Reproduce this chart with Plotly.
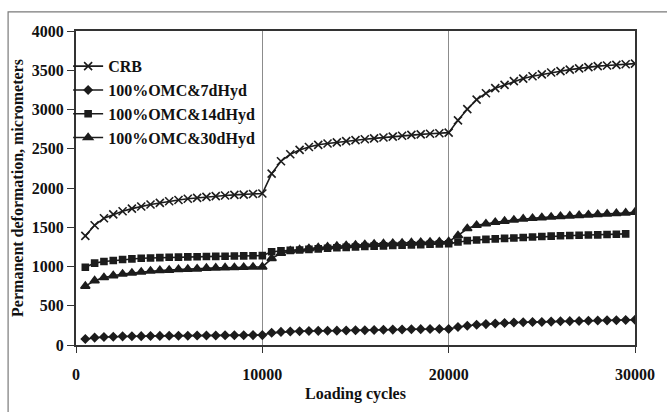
import plotly.graph_objects as go

# Loading cycles at which deformation was recorded (every 500 cycles)
cycles = list(range(500, 30001, 500))

crb = [1390, 1525, 1615, 1664, 1704, 1737, 1765, 1790, 1810, 1831,
       1847, 1863, 1875, 1887, 1896, 1904, 1912, 1916, 1924, 1930,
       2183, 2341, 2430, 2485, 2522, 2550, 2567, 2582, 2597, 2610,
       2621, 2632, 2644, 2655, 2666, 2676, 2683, 2691, 2698, 2705,
       2862, 3004, 3126, 3207, 3272, 3313, 3362, 3394, 3423, 3447,
       3472, 3488, 3508, 3524, 3540, 3553, 3561, 3569, 3577, 3585]

omc_7d = [77, 94, 102, 106, 110, 111, 113, 114, 116, 117,
          118, 119, 120, 121, 122, 123, 124, 125, 126, 126,
          155, 167, 171, 175, 178, 180, 182, 183, 185, 187,
          189, 192, 194, 196, 198, 200, 202, 203, 204, 204,
          229, 245, 257, 266, 274, 281, 286, 290, 292, 294,
          298, 302, 304, 306, 309, 312, 314, 316, 319, 322]

omc_14d = [991, 1043, 1064, 1076, 1089, 1097, 1105, 1109, 1113, 1117,
           1120, 1122, 1125, 1127, 1129, 1131, 1133, 1135, 1137, 1138,
           1187, 1199, 1205, 1211, 1218, 1225, 1232, 1238, 1244, 1249,
           1254, 1259, 1263, 1267, 1271, 1275, 1279, 1283, 1287, 1290,
           1313, 1330, 1338, 1346, 1352, 1358, 1364, 1370, 1376, 1382,
           1387, 1391, 1395, 1399, 1401, 1403, 1407, 1411, 1415, None]

omc_30d = [750, 820, 860, 884, 905, 917, 930, 942, 950, 954,
           963, 966, 970, 979, 982, 985, 988, 990, 993, 995,
           1101, 1170, 1200, 1215, 1228, 1240, 1250, 1259, 1267, 1274,
           1280, 1286, 1291, 1296, 1300, 1304, 1308, 1312, 1315, 1318,
           1394, 1484, 1525, 1545, 1563, 1578, 1592, 1606, 1615, 1623,
           1631, 1639, 1645, 1651, 1658, 1664, 1670, 1676, 1683, 1692]

series_names = ["CRB", "100%OMC&7dHyd", "100%OMC&14dHyd", "100%OMC&30dHyd"]
series_values = [crb, omc_7d, omc_14d, omc_30d]
series_symbols = ["x-thin-open", "diamond", "square", "triangle-up"]
series_sizes = [8, 6, 6, 8]

x_ticks = [0, 10000, 20000, 30000]
y_ticks = list(range(0, 4001, 500))

W, H = 667, 412
L, R, T, B = 76, 23, 31, 54
INK = "#1c1c1c"
FONT = dict(family="Liberation Serif, Times New Roman, serif", size=16,
            color="#111111", weight="bold")

fig = go.Figure()
for name, vals, sym, sz in zip(series_names, series_values,
                               series_symbols, series_sizes):
    fig.add_trace(go.Scatter(
        x=cycles, y=vals, name=name, mode="lines+markers",
        line=dict(color=INK, width=1.6),
        marker=dict(symbol=sym, size=sz, color=INK,
                    line=dict(color=INK, width=1.6)),
        connectgaps=False,
    ))

pw, ph = W - L - R, H - T - B


def px_to_paper(px, py):
    return (px - L) / pw, (H - B - py) / ph


# outer frame around the figure (top and left edges)
x0, y0 = px_to_paper(7, 430)
x1, y1 = px_to_paper(7, 11)
x2, _ = px_to_paper(700, 11)
fig.add_shape(type="path", xref="paper", yref="paper",
              path=f"M {x0} {y0} L {x1} {y1} L {x2} {y1}",
              line=dict(color="#7a7a7a", width=1.2))

lx, ly = px_to_paper(68, 50)

fig.update_layout(
    width=W, height=H,
    margin=dict(l=L, r=R, t=T, b=B),
    paper_bgcolor="white", plot_bgcolor="white",
    font=FONT,
    showlegend=True,
    legend=dict(x=lx, y=ly, xanchor="left", yanchor="top",
                bgcolor="rgba(0,0,0,0)", font=FONT,
                itemwidth=30, tracegroupgap=0),
    xaxis=dict(range=[0, 30000], tickvals=x_ticks,
               ticktext=[str(v) for v in x_ticks],
               showgrid=True, gridcolor="#8c8c8c", gridwidth=1,
               zeroline=False, showline=True, linecolor="#333333",
               linewidth=2, mirror=True, ticks="outside", ticklen=6,
               tickcolor="#333333", tickfont=FONT, ticklabelstandoff=8,
               title=dict(text="Loading cycles", font=FONT, standoff=6)),
    yaxis=dict(range=[0, 4000], tickvals=y_ticks,
               showgrid=False, zeroline=False, showline=True,
               linecolor="#333333", linewidth=2, mirror=True,
               ticks="outside", ticklen=7, tickcolor="#333333",
               tickfont=FONT,
               title=dict(text="Permanent deformation, micrometers",
                          font=FONT, standoff=4)),
)

fig.write_html("out.html")
